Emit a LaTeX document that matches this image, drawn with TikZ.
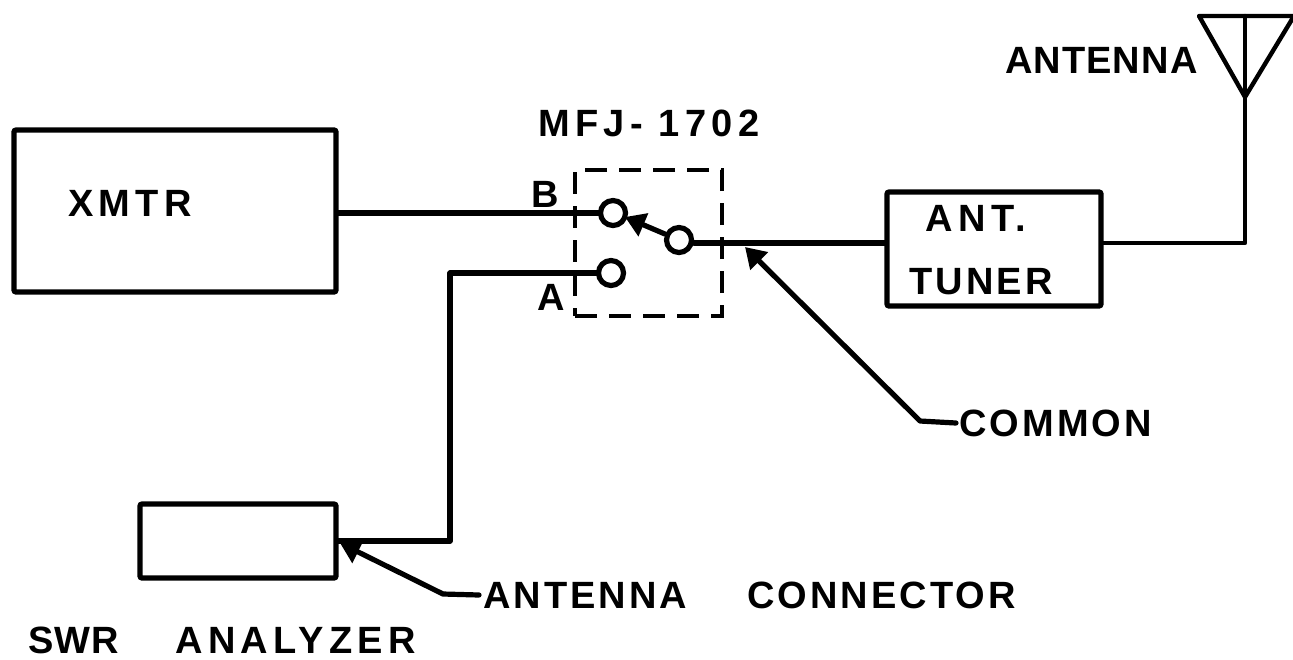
\documentclass[tikz,border=0pt]{standalone}
\usepackage{fontspec}
\setmainfont{Liberation Sans}
\usetikzlibrary{arrows.meta}

\newcommand\LBL{\fontsize{19}{23}\selectfont\bfseries}
\newfontfamily\wideC[LetterSpace=3]{Liberation Sans}
\newfontfamily\wideA[LetterSpace=8]{Liberation Sans}
\newfontfamily\wideB[LetterSpace=14]{Liberation Sans}

\tikzset{
  wire/.style={line width=2.6pt, line join=round, line cap=round},
  blockbox/.style={draw, line width=2.6pt, inner sep=0pt, rounded corners=1pt},
  termcirc/.style={draw, circle, line width=2.6pt, inner sep=0pt, minimum size=12.5pt, fill=white},
  lbl/.style={font=\LBL, inner sep=0pt},
  pointer/.style={wire, -{Triangle[length=10pt, width=12pt]}}
}

\begin{document}
\begin{tikzpicture}[x=0.5pt, y=-0.5pt]

  \useasboundingbox (0,0) rectangle (1293,659);

  \newcommand\YB{213}
  \newcommand\YA{273}
  \newcommand\YC{243}

  % boxes
  \node[blockbox, minimum width=161pt, minimum height=81pt] (xmtr) at (175,211) {};
  \node[blockbox, minimum width=98pt, minimum height=37pt] (swr) at (238,541) {};
  \node[blockbox, minimum width=107pt, minimum height=57pt] (tuner) at (994,249) {};
  \node[draw, line width=2.2pt, dash pattern=on 11pt off 6pt, minimum width=73.5pt, minimum height=73pt, inner sep=0pt] (mfj) at (648.5,243) {};

  % labels
  \node[lbl] (xmtrlbl) at (130,203) {\wideB XMTR};
  \node[lbl] (tunerlbl1) at (976,218) {\wideB ANT.};
  \node[lbl] (tunerlbl2) at (981,282) {\wideA TUNER};
  \node[lbl] (mfjlbl) at (649,123) {\wideB MFJ- 1702};
  \node[lbl] (blbl) at (545,194) {B};
  \node[lbl] (albl) at (551,297) {A};
  \node[lbl, anchor=east] (antlbl) at (1198,60) {\wideC ANTENNA};
  \node[lbl, anchor=west, inner xsep=1.5pt] (comlbl) at (956,423) {\wideA COMMON};
  \node[lbl, anchor=west, inner xsep=2pt] (conlbl) at (479,595) {\wideA ANTENNA\hspace{30pt}CONNECTOR};
  \node[lbl, anchor=west] (swrlbl) at (28,640) {\wideC SWR\hspace{28pt}\wideB ANALYZER};

  \coordinate (bendA) at (450,\YA);
  \coordinate (antB) at (1245,97);
  \coordinate (antL) at (1199,16);
  \coordinate (antR) at (1294,16);
  \coordinate (antC) at (1245,\YC);
  \coordinate (bendcom) at (920,421);
  \coordinate (bendcon) at (443,594);
  \coordinate (tipcom) at (745,247);
  \coordinate (tipcon) at (340,543);
  \coordinate (tipsw) at (625,217);

  % wires
  \draw[wire] (xmtr.east |- 0,\YB) -- (613,\YB) node[termcirc] (termb) {};
  \draw[wire] (bendA) -- (bendA |- swr.east) -- (swr.east);
  \draw[wire] (bendA) -- (611,\YA) node[termcirc] (terma) {};
  \node[termcirc] (termc) at (679,240) {};
  \draw[wire] (termc.east |- antC) -- (tuner.west |- antC);
  \draw[wire, line width=2.2pt] (tuner.east |- antC) -- (antC) -- (antB);
  \draw[wire, line width=2.2pt] (antL) -- (antR) -- (antB) -- cycle;
  \draw[wire, line width=2.2pt] (antB) -- (antB |- antL);

  % arrows
  \draw[pointer] (termc) -- (tipsw);
  \draw[pointer] (comlbl.west) -- (bendcom) -- (tipcom);
  \draw[pointer] (conlbl.west) -- (bendcon) -- (tipcon);

\end{tikzpicture}
\end{document}
